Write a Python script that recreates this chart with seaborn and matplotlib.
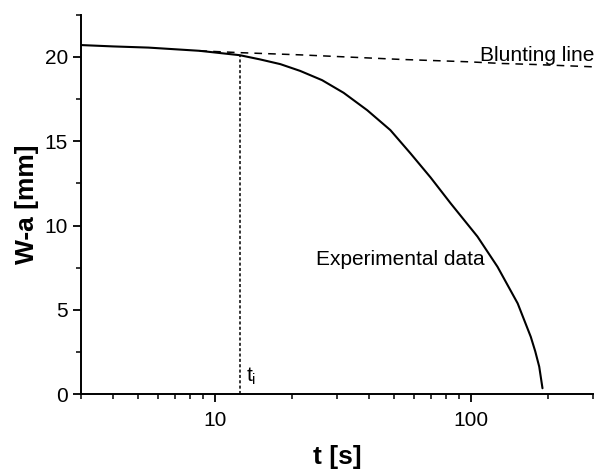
import matplotlib
matplotlib.use("Agg")
import matplotlib.pyplot as plt
import seaborn as sns
from matplotlib.ticker import FixedLocator, MultipleLocator, NullFormatter

# Data
exp_t = [3, 4, 5.5, 8.7, 12.5, 15, 18, 21.5, 26.2, 31.8, 39.3, 48.4, 58, 69.5, 83.2,
         105.9, 126.8, 152, 171, 178, 184.5, 190]
exp_y = [20.70, 20.62, 20.55, 20.36, 20.10, 19.85, 19.57, 19.17, 18.62, 17.87, 16.84, 15.66,
         14.28, 12.85, 11.32, 9.35, 7.56, 5.39, 3.41, 2.55, 1.64, 0.36]

blunt_t = [8.7, 12.5, 21.5, 53, 97, 131, 176, 300]
blunt_y = [20.36, 20.25, 20.12, 19.85, 19.71, 19.61, 19.55, 19.41]

t_i = 12.5
t_i_y = 20.1

x_ticks = [10, 100]
x_ticklabels = ["10", "100"]
y_ticks = [0, 5, 10, 15, 20]

sns.set_style("ticks")
plt.rcParams["font.family"] = ["Liberation Sans", "DejaVu Sans"]
plt.rcParams["mathtext.default"] = "regular"
plt.rcParams["text.color"] = "black"
plt.rcParams["axes.labelcolor"] = "black"

fig = plt.figure(figsize=(5.97, 4.71), dpi=100)
ax = fig.add_axes([0.1357, 0.1628, 0.8581, 0.806])

sns.lineplot(x=exp_t, y=exp_y, ax=ax, color="black", linewidth=1.5, sort=False)
sns.lineplot(x=blunt_t, y=blunt_y, ax=ax, color="black", linewidth=1.1, sort=False,
             linestyle=(0, (5, 4)))
ax.vlines(t_i, 0, t_i_y, colors="black", linewidth=1.1, linestyles=(0, (2, 1.5)))

ax.set_xscale("log")
ax.set_xlim(3, 300)
ax.set_ylim(0, 22.5)

ax.xaxis.set_major_locator(FixedLocator(x_ticks))
ax.set_xticklabels(x_ticklabels)
ax.xaxis.set_minor_locator(FixedLocator([3, 4, 5, 6, 7, 8, 9, 20, 30, 40, 50, 60, 70, 80, 90, 200, 300]))
ax.xaxis.set_minor_formatter(NullFormatter())
ax.yaxis.set_major_locator(FixedLocator(y_ticks))
ax.yaxis.set_minor_locator(MultipleLocator(2.5))

for s in ["top", "right"]:
    ax.spines[s].set_visible(False)
for s in ["left", "bottom"]:
    ax.spines[s].set_linewidth(1.4)
    ax.spines[s].set_color("black")

ax.tick_params(axis="both", which="major", direction="out", length=6, width=1.3,
               labelsize=15, color="black", labelcolor="black")
ax.tick_params(axis="both", which="minor", direction="out", length=3.5, width=1.1, color="black")
ax.tick_params(axis="y", which="major", pad=3.5)
ax.tick_params(axis="x", which="major", pad=6)

ax.set_xlabel("t [s]", fontsize=19, fontweight="bold", labelpad=11)
ax.set_ylabel("W-a [mm]", fontsize=19, fontweight="bold", labelpad=4)

ax.text(108, 19.76, "Blunting line", fontsize=15, ha="left", va="baseline", color="black")
ax.text(24.7, 7.66, "Experimental data", fontsize=15, ha="left", va="baseline", color="black")
ax.text(13.2, 0.75, "t$_{i}$", fontsize=15, ha="left", va="baseline", color="black")

fig.savefig("out.png", dpi=100)
